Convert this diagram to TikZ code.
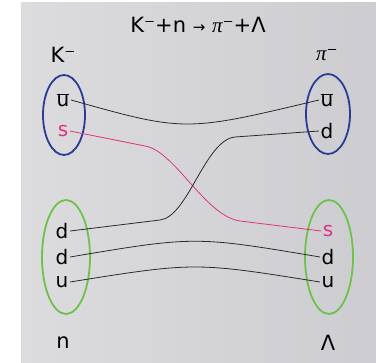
\documentclass[tikz,border=0pt]{standalone}
\usepackage{fontspec}
\setmainfont{DejaVu Sans}
\newfontfamily\grkfont{Liberation Serif}
\usetikzlibrary{shapes.geometric}
\definecolor{bgA}{HTML}{DCDCDF}
\definecolor{bgB}{HTML}{CDCDD1}
\definecolor{mesoncol}{HTML}{2B3A96}
\definecolor{baryoncol}{HTML}{6CC24A}
\definecolor{strangecol}{HTML}{E0337F}
\definecolor{quarkline}{HTML}{2A2A2A}
\newcommand{\piletter}{{\grkfont\itshape π}}
\newcommand{\ubarq}{\ensuremath{\overline{\mbox{u}}}}
\tikzset{
  quark/.style={inner sep=1.5pt, font=\fontsize{20}{20}\selectfont, text=black},
  hadron/.style={inner sep=1pt, font=\fontsize{21}{21}\selectfont},
  meson/.style={draw=mesoncol, line width=1.8pt, ellipse, inner sep=0pt},
  baryon/.style={draw=baryoncol, line width=1.8pt, ellipse, inner sep=0pt},
  qline/.style={draw=quarkline, line width=0.8pt},
  sline/.style={draw=strangecol, line width=0.8pt},
}
\begin{document}
\begin{tikzpicture}[x=1pt,y=-1pt]
\useasboundingbox (0,0) rectangle (376,363);
\shade[left color=bgA, right color=bgB] (21,3) rectangle (376,363);
% title
\node[hadron] (title) at (198,25) {K⁻+n {\fontsize{15}{15}\selectfont →} \piletter⁻+Λ};
\node[hadron] (Klab) at (63,55) {K⁻};
\node[hadron] (pilab) at (327,55) {\piletter⁻};
\node[hadron] (nlab) at (63,343) {n};
\node[hadron] (Llab) at (328,343) {Λ};
% hadron ellipses
\node[meson, minimum width=42, minimum height=80] (kaon) at (64,115) {};
\node[meson, minimum width=44, minimum height=80] (pion) at (328,114) {};
\node[baryon, minimum width=48, minimum height=114] (neutron) at (66,257) {};
\node[baryon, minimum width=48, minimum height=114] (lambda) at (329,257) {};
% quarks
\node[quark] (lu) at (63,100) {\ubarq};
\node[quark, text=strangecol] (ls) at (63,131) {s};
\node[quark] (ru) at (327,100) {\ubarq};
\node[quark] (rd) at (327,131) {d};
\node[quark] (nd1) at (62,231) {d};
\node[quark] (nd2) at (62,257) {d};
\node[quark] (nu) at (62,282) {u};
\node[quark, text=strangecol] (rs) at (328,231) {s};
\node[quark] (rd2) at (328,257) {d};
\node[quark] (ru2) at (328,282) {u};
% quark lines
\coordinate (ka) at (145,146);
\coordinate (kb) at (240,221);
\coordinate (da) at (160,220);
\coordinate (db) at (235,137);
\draw[qline] (lu.east) .. controls (185,132) .. (ru.west);
\draw[sline] (ls.east) -- (ka) .. controls (175,151) and (205,216) .. (kb) -- (rs.west);
\draw[qline] (nd1.east) -- (da) .. controls (188,217) and (205,140) .. (db) -- (rd.west);
\draw[qline] (nd2.east) .. controls (195,236) .. (rd2.west);
\draw[qline] (nu.east) .. controls (195,262) .. (ru2.west);
\end{tikzpicture}
\end{document}
